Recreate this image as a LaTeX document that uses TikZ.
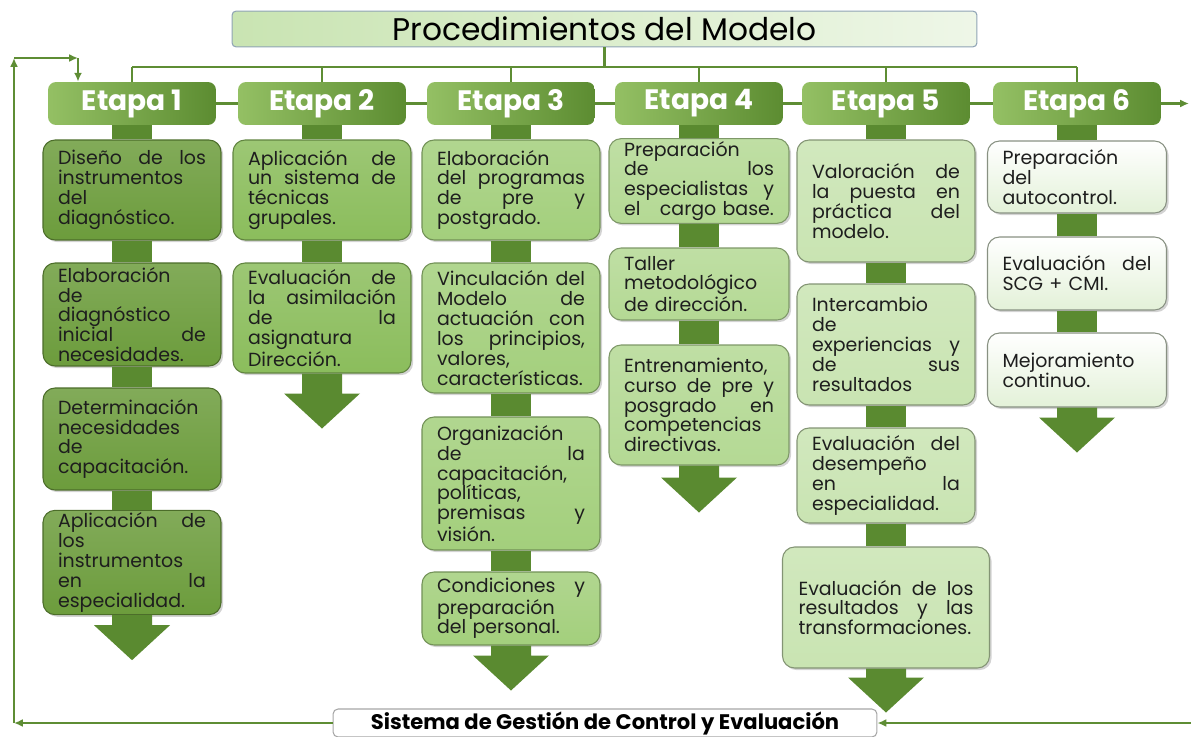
\documentclass[tikz,border=0pt]{standalone}
\usepackage{fontspec}
\setmainfont{Poppins}
\usetikzlibrary{calc,shadows,arrows.meta}

\definecolor{verdeLinea}{HTML}{5E8D34}
\definecolor{verdeBarra}{HTML}{5A8A30}
\definecolor{etaClaro}{HTML}{94C064}
\definecolor{etaOscuro}{HTML}{5C8C31}
\definecolor{colA}{HTML}{6C9C3C}
\definecolor{colB}{HTML}{8BBD5C}
\definecolor{colC}{HTML}{A3CF7C}
\definecolor{colD}{HTML}{B4D994}
\definecolor{colE}{HTML}{C9E4B2}
\definecolor{colF}{HTML}{E3F1D8}
\definecolor{texto}{HTML}{1E1E1E}
\definecolor{borde}{HTML}{8FA3B5}
\hyphenpenalty=10000
\exhyphenpenalty=10000

\begin{document}
\begin{tikzpicture}[x=0.02cm,y=-0.02cm,
  linea/.style={draw=verdeLinea,line width=1.5pt},
  flechita/.style={linea,-{Latex[length=5pt,width=4.5pt]}},
  barra/.style={draw=verdeBarra,line width=0.8cm},
  flecha/.style={fill=verdeBarra},
  etapa/.style={rounded corners=0.16cm,left color=etaClaro,right color=etaOscuro,minimum width=3.36cm,minimum height=0.86cm,inner sep=0pt,text=white,font=\fontsize{16}{18}\selectfont\bfseries},
  paso/.style={rounded corners=0.24cm,text width=2.96cm,inner xsep=0.3cm,inner ysep=0.05cm,align=left,font=\fontsize{10.8}{11.3}\selectfont,text=texto,line width=0.6pt,drop shadow={shadow xshift=1.2pt,shadow yshift=-1.2pt,opacity=0.35}},
  pasoA/.style={paso,draw=colA!70!black,top color=colA!85!white,bottom color=colA},
  pasoB/.style={paso,draw=colB!70!black,top color=colB!85!white,bottom color=colB},
  pasoC/.style={paso,draw=colC!70!black,top color=colC!85!white,bottom color=colC},
  pasoD/.style={paso,draw=colD!70!black,top color=colD!85!white,bottom color=colD},
  pasoE/.style={paso,draw=colE!65!black,top color=colE!85!white,bottom color=colE},
  pasoF/.style={paso,draw=colF!60!black,top color=white,bottom color=colF}]
\useasboundingbox (0,0) rectangle (1191,737);

% titulo y etapas
\node[rounded corners=0.08cm,draw=borde,line width=0.6pt,left color=colE,right color=colF!60!white,minimum width=14.9cm,minimum height=0.68cm,font=\fontsize{17.8}{19}\selectfont] (tit) at (604.5,29) {Procedimientos del Modelo};
\node[etapa] (e1) at (132,103.5) {Etapa 1};
\node[etapa] (e2) at (322,103.5) {Etapa 2};
\node[etapa] (e3) at (511,103.5) {Etapa 3};
\node[etapa] (e4) at (699,103.5) {Etapa 4};
\node[etapa] (e5) at (886,103.5) {Etapa 5};
\node[etapa] (e6) at (1077,103.5) {Etapa 6};

\coordinate (bus) at (604.5,67);
\draw[linea] (tit.south) -- (bus);
\draw[linea] (e1.north |- bus) -- (e6.north |- bus);
\draw[linea] (e1.north) -- (e1.north |- bus);
\draw[linea] (e2.north) -- (e2.north |- bus);
\draw[linea] (e3.north) -- (e3.north |- bus);
\draw[linea] (e4.north) -- (e4.north |- bus);
\draw[linea] (e5.north) -- (e5.north |- bus);
\draw[linea] (e6.north) -- (e6.north |- bus);
\draw[linea] (e1) -- (e2);
\draw[linea] (e2) -- (e3);
\draw[linea] (e3) -- (e4);
\draw[linea] (e4) -- (e5);
\draw[linea] (e5) -- (e6);

% etapa 1
\node[pasoA,minimum height=2.0cm] (c1a) at (132,190) {Diseño\hfill de\hfill los\\ instrumentos\\ del\\ diagnóstico.};
\node[pasoA,minimum height=2.06cm] (c1b) at (132,314.5) {Elaboración\\ de\\ diagnóstico\\ inicial\hfill de\\ necesidades.};
\node[pasoA,minimum height=2.04cm] (c1c) at (132,439) {Determinación\\ necesidades\\ de\\ capacitación.};
\node[pasoA,minimum height=2.02cm] (c1d) at (132,562.5) {Aplicación\hfill de\\ los\\ instrumentos\\ en\hfill la\\ especialidad.};

% etapa 2
\node[pasoB,minimum height=2.0cm] (c2a) at (322,190) {Aplicación\hfill de\\ un\hfill sistema\hfill de\\ técnicas\\ grupales.};
\node[pasoB,minimum height=2.2cm] (c2b) at (322,318) {Evaluación\hfill de\\ la\hfill asimilación\\ de\hfill la\\ asignatura\\ Dirección.};

% etapa 3
\node[pasoC,minimum height=2.0cm] (c3a) at (511,190) {Elaboración\\ del\hfill programas\\ de\hfill pre\hfill y\\ postgrado.};
\node[pasoC,minimum height=2.6cm] (c3b) at (511,328) {Vinculación\hfill del\\ Modelo\hfill de\\ actuación\hfill con\\ los\hfill principios,\\ valores,\\ características.};
\node[pasoC,minimum height=2.66cm] (c3c) at (511,483.5) {Organización\\ de\hfill la\\ capacitación,\\ políticas,\\ premisas\hfill y\\ visión.};
\node[pasoC,minimum height=1.46cm] (c3d) at (511,608.5) {Condiciones\hfill y\\ preparación\\ del personal.};

% etapa 4
\node[pasoD,text width=3.0cm,minimum height=1.64cm] (c4a) at (699,181) {Preparación\\ de\hfill los\\ especialistas\hfill y\\ el\hfill cargo base.};
\node[pasoD,text width=3.0cm,minimum height=1.44cm] (c4b) at (699,284) {Taller\\ metodológico\\ de dirección.};
\node[pasoD,text width=3.0cm,minimum height=2.4cm] (c4c) at (699,405) {Entrenamiento,\\ curso\hfill de\hfill pre\hfill y\\ posgrado\hfill en\\ competencias\\ directivas.};

% etapa 5
\node[pasoE,minimum height=2.44cm] (c5a) at (886,201) {Valoración\hfill de\\ la\hfill puesta\hfill en\\ práctica\hfill del\\ modelo.};
\node[pasoE,minimum height=2.42cm] (c5b) at (886,344.5) {Intercambio\\ de\\ experiencias\hfill y\\ de\hfill sus\\ resultados};
\node[pasoE,minimum height=1.9cm] (c5c) at (886,475.5) {Evaluación\hfill del\\ desempeño\\ en\hfill la\\ especialidad.};
\node[pasoE,text width=3.5cm,inner xsep=0.32cm,minimum height=2.42cm] (c5d) at (886,607.5) {Evaluación\hfill de\hfill los\\ resultados\hfill y\hfill las\\ transformaciones.};

% etapa 6
\node[pasoF,text width=2.98cm,minimum height=1.44cm] (c6a) at (1077,177) {Preparación\\ del\\ autocontrol.};
\node[pasoF,text width=2.98cm,minimum height=1.46cm] (c6b) at (1077,273.5) {Evaluación\hfill del\\ SCG + CMI.};
\node[pasoF,text width=2.98cm,minimum height=1.48cm] (c6c) at (1077,370) {Mejoramiento\\ continuo.};

% barras entre pasos
\draw[barra] (e1.south) -- (c1a.north);
\draw[barra] (c1a.south) -- (c1b.north);
\draw[barra] (c1b.south) -- (c1c.north);
\draw[barra] (c1c.south) -- (c1d.north);
\draw[barra] (e2.south) -- (c2a.north);
\draw[barra] (c2a.south) -- (c2b.north);
\draw[barra] (e3.south) -- (c3a.north);
\draw[barra] (c3a.south) -- (c3b.north);
\draw[barra] (c3b.south) -- (c3c.north);
\draw[barra] (c3c.south) -- (c3d.north);
\draw[barra] (e4.south) -- (c4a.north);
\draw[barra] (c4a.south) -- (c4b.north);
\draw[barra] (c4b.south) -- (c4c.north);
\draw[barra] (e5.south) -- (c5a.north);
\draw[barra] (c5a.south) -- (c5b.north);
\draw[barra] (c5b.south) -- (c5c.north);
\draw[barra] (c5c.south) -- (c5d.north);
\draw[barra] (e6.south) -- (c6a.north);
\draw[barra] (c6a.south) -- (c6b.north);
\draw[barra] (c6b.south) -- (c6c.north);

% flechas grandes
\fill[flecha] ($(c1d.south)+(-20,0)$) -- ++(0,10) -- ++(-18,0) -- ($(c1d.south)+(0,45)$) -- ++(38,-35) -- ++(-18,0) -- ++(0,-10) -- cycle;
\fill[flecha] ($(c2b.south)+(-20,0)$) -- ++(0,20) -- ++(-18,0) -- ($(c2b.south)+(0,55)$) -- ++(38,-35) -- ++(-18,0) -- ++(0,-20) -- cycle;
\fill[flecha] ($(c3d.south)+(-20,0)$) -- ++(0,10) -- ++(-18,0) -- ($(c3d.south)+(0,45)$) -- ++(38,-35) -- ++(-18,0) -- ++(0,-10) -- cycle;
\fill[flecha] ($(c4c.south)+(-20,0)$) -- ++(0,12) -- ++(-18,0) -- ($(c4c.south)+(0,47)$) -- ++(38,-35) -- ++(-18,0) -- ++(0,-12) -- cycle;
\fill[flecha] ($(c5d.south)+(-20,0)$) -- ++(0,9) -- ++(-18,0) -- ($(c5d.south)+(0,44)$) -- ++(38,-35) -- ++(-18,0) -- ++(0,-9) -- cycle;
\fill[flecha] ($(c6c.south)+(-20,0)$) -- ++(0,10) -- ++(-18,0) -- ($(c6c.south)+(0,45)$) -- ++(38,-35) -- ++(-18,0) -- ++(0,-10) -- cycle;

% sistema y lazo de retorno
\node[rounded corners=0.1cm,draw=gray!70,line width=0.6pt,fill=white,minimum width=10.88cm,minimum height=0.56cm,inner sep=0pt,font=\fontsize{12}{14}\selectfont\bfseries,text=black] (sis) at (605,723) {Sistema de Gestión de Control y Evaluación};
\coordinate (cDer) at (1189,103.5);
\coordinate (cInfDer) at (1191,723);
\coordinate (cInfIzq) at (14,723);
\coordinate (cSupIzq) at (14,58);
\coordinate (cSupDer) at (78,58);
\draw[flechita] (e6) -- (cDer);
\draw[flechita] (cInfDer) -- (sis.east);
\draw[flechita] (sis.west) -- (cInfIzq);
\draw[flechita] (cInfIzq) -- (cSupIzq);
\draw[flechita] (cSupIzq) -- (cSupDer);
\draw[flechita] (cSupDer) -- (cSupDer |- e1.north);
\end{tikzpicture}
\end{document}
